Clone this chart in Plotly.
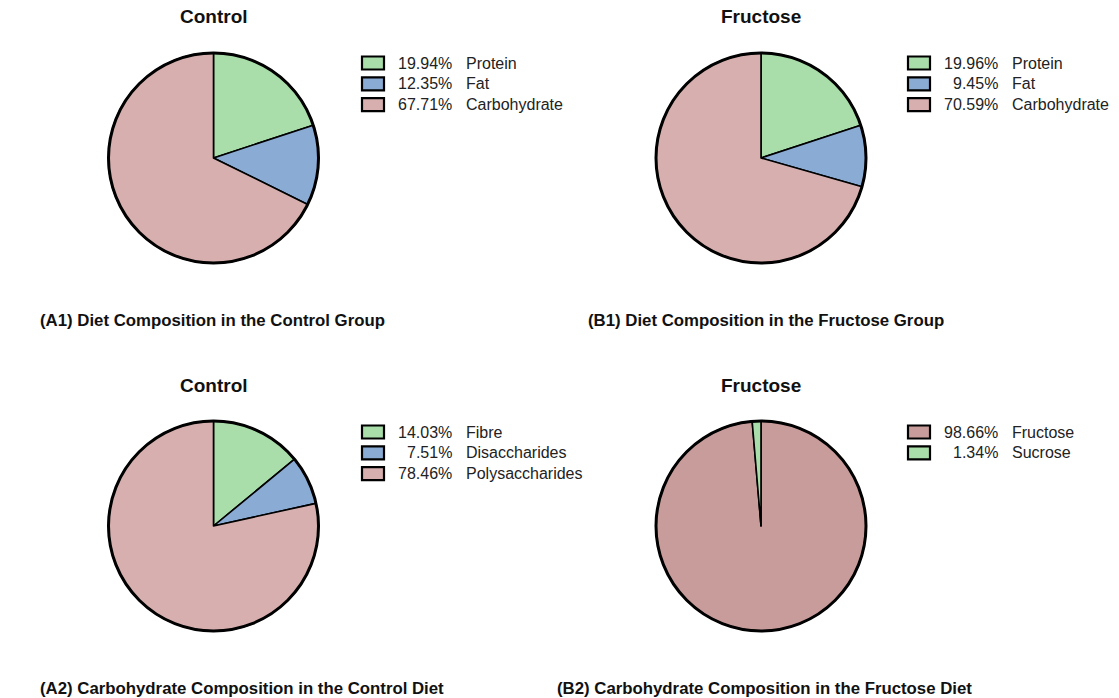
import plotly.graph_objects as go

W, H = 1119, 698

# ---- data ----
a1_labels = ["Protein", "Fat", "Carbohydrate"]
a1_values = [19.94, 12.35, 67.71]
b1_labels = ["Protein", "Fat", "Carbohydrate"]
b1_values = [19.96, 9.45, 70.59]
a2_labels = ["Fibre", "Disaccharides", "Polysaccharides"]
a2_values = [14.03, 7.51, 78.46]
b2_labels = ["Fructose", "Sucrose"]
b2_values = [98.66, 1.34]

GREEN = "#a9dda9"
BLUE = "#8aabd3"
PINK = "#d6afae"
PINK2 = "#c99c9c"

a1_colors = [GREEN, BLUE, PINK]
b1_colors = [GREEN, BLUE, PINK]
a2_colors = [GREEN, BLUE, PINK]
b2_colors = [PINK2, GREEN]

titles = ["Control", "Fructose", "Control", "Fructose"]
captions = [
    "(A1) Diet Composition in the Control Group",
    "(B1) Diet Composition in the Fructose Group",
    "(A2) Carbohydrate Composition in the Control Diet",
    "(B2) Carbohydrate Composition in the Fructose Diet",
]

FONT = "Liberation Sans, Arial, Helvetica, sans-serif"

panels = [
    dict(labels=a1_labels, values=a1_values, colors=a1_colors, cx=213.5, cy=158,
         title=titles[0], ty=17, cap=captions[0], capx=38, capy=320,
         lx=362, pend=454, nstart=464, ly=63),
    dict(labels=b1_labels, values=b1_values, colors=b1_colors, cx=761, cy=158,
         title=titles[1], ty=17, cap=captions[1], capx=586, capy=320,
         lx=908, pend=1000, nstart=1010, ly=63),
    dict(labels=a2_labels, values=a2_values, colors=a2_colors, cx=213.5, cy=526,
         title=titles[2], ty=385, cap=captions[2], capx=38, capy=688,
         lx=362, pend=454, nstart=464, ly=432),
    dict(labels=b2_labels, values=b2_values, colors=b2_colors, cx=761, cy=526,
         title=titles[3], ty=385, cap=captions[3], capx=555, capy=688,
         lx=908, pend=1000, nstart=1010, ly=432),
]

R = 105
ROW = 20.8

fig = go.Figure()
annotations = []
shapes = []

def px(x):
    return x / W

def py(y):
    return 1 - y / H

for p in panels:
    dom = dict(x=[px(p["cx"] - R), px(p["cx"] + R)], y=[py(p["cy"] + R), py(p["cy"] - R)])
    fig.add_trace(go.Pie(
        labels=p["labels"], values=p["values"], sort=False, direction="clockwise",
        rotation=0, textinfo="none", showlegend=False, domain=dom,
        marker=dict(colors=p["colors"], line=dict(color="black", width=1.6)),
    ))
    # thicker outer ring
    fig.add_trace(go.Pie(
        labels=["ring"], values=[1], textinfo="none", showlegend=False, domain=dom,
        hoverinfo="skip",
        marker=dict(colors=["rgba(0,0,0,0)"], line=dict(color="black", width=3)),
    ))
    annotations.append(dict(x=px(p["cx"]), y=py(p["ty"]), xref="paper", yref="paper",
                            text="<b>%s</b>" % p["title"], showarrow=False,
                            xanchor="center", yanchor="middle",
                            font=dict(family=FONT, size=19, color="#111")))
    annotations.append(dict(x=px(p["capx"]), y=py(p["capy"]), xref="paper", yref="paper",
                            text="<b>%s</b>" % p["cap"], showarrow=False,
                            xanchor="left", yanchor="middle",
                            font=dict(family=FONT, size=16.8, color="#111")))
    for i, (lab, val, col) in enumerate(zip(p["labels"], p["values"], p["colors"])):
        yc = p["ly"] + i * ROW
        shapes.append(dict(type="rect", xref="paper", yref="paper",
                           x0=px(p["lx"]), x1=px(p["lx"] + 22),
                           y0=py(yc - 6.5), y1=py(yc + 6.5),
                           fillcolor=col, line=dict(color="black", width=2.2)))
        annotations.append(dict(x=px(p["pend"]), y=py(yc), xref="paper", yref="paper",
                                text="%.2f%%" % val, showarrow=False,
                                xanchor="right", yanchor="middle",
                                font=dict(family=FONT, size=16, color="#222")))
        annotations.append(dict(x=px(p["nstart"]), y=py(yc), xref="paper", yref="paper",
                                text=lab, showarrow=False,
                                xanchor="left", yanchor="middle",
                                font=dict(family=FONT, size=16, color="#222")))

fig.update_layout(
    width=W, height=H, margin=dict(l=0, r=0, t=0, b=0),
    paper_bgcolor="white", plot_bgcolor="white",
    annotations=annotations, shapes=shapes, showlegend=False,
)

fig.write_html("out.html")
